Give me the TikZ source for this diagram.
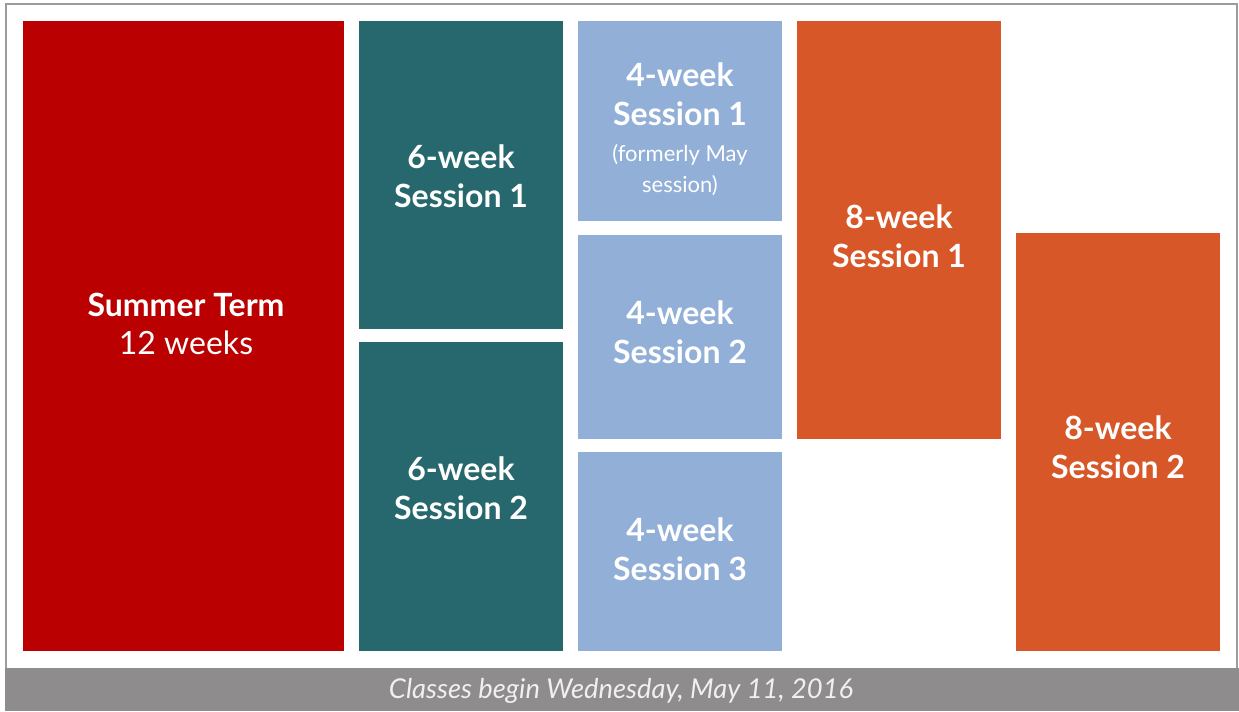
\documentclass[tikz,border=0pt]{standalone}
\usepackage{fontspec}
\setmainfont{Lato}
\definecolor{termred}{HTML}{BA0000}
\definecolor{sixteal}{HTML}{26686E}
\definecolor{fourblue}{HTML}{92AFD7}
\definecolor{eightorange}{HTML}{D85728}
\definecolor{bargray}{HTML}{8E8C8D}
\definecolor{framegray}{HTML}{9C9C9C}
\begin{document}
\begin{tikzpicture}[x=0.75pt, y=-0.75pt,
	lbl/.style={text=white, align=center, inner sep=0pt, font=\bfseries\fontsize{24}{29}\selectfont},
	small/.style={text=white, align=center, inner sep=0pt, font=\fontsize{16.5}{23}\selectfont}]
	\useasboundingbox (0,0) rectangle (1239,711);
	
	%Rahmen
	\draw[framegray, line width=1.5pt] (6,4) rectangle (1237,669);
	\fill[bargray] (5,668) rectangle (1239,711);
	\node[text=white!94!black, font=\itshape\fontsize{20.5}{22}\selectfont] (start) at (621,691) {Classes begin Wednesday, May 11, 2016};
	
	%Bloecke
	\fill[termred] (23,21) rectangle (344,651);
	\fill[sixteal] (359,21) rectangle (563,329);
	\fill[sixteal] (359,342) rectangle (563,651);
	\fill[fourblue] (578,21) rectangle (782,221);
	\fill[fourblue] (578,235) rectangle (782,439);
	\fill[fourblue] (578,452) rectangle (782,651);
	\fill[eightorange] (797,21) rectangle (1001,439);
	\fill[eightorange] (1016,233) rectangle (1220,651);
	
	%Texte
	\node[lbl] (term) at (186,324) {Summer Term\\\mdseries 12 weeks};
	\node[lbl] (six1) at (461,176) {6-week\\Session 1};
	\node[lbl] (six2) at (461,488) {6-week\\Session 2};
	\node[lbl] (four1) at (680,94) {4-week\\Session 1};
	\node[small] (former) at (680,170) {(formerly May\\session)};
	\node[lbl] (four2) at (680,332) {4-week\\Session 2};
	\node[lbl] (four3) at (680,549) {4-week\\Session 3};
	\node[lbl] (eight1) at (899,236) {8-week\\Session 1};
	\node[lbl] (eight2) at (1118,447) {8-week\\Session 2};
	
\end{tikzpicture}
\end{document}
